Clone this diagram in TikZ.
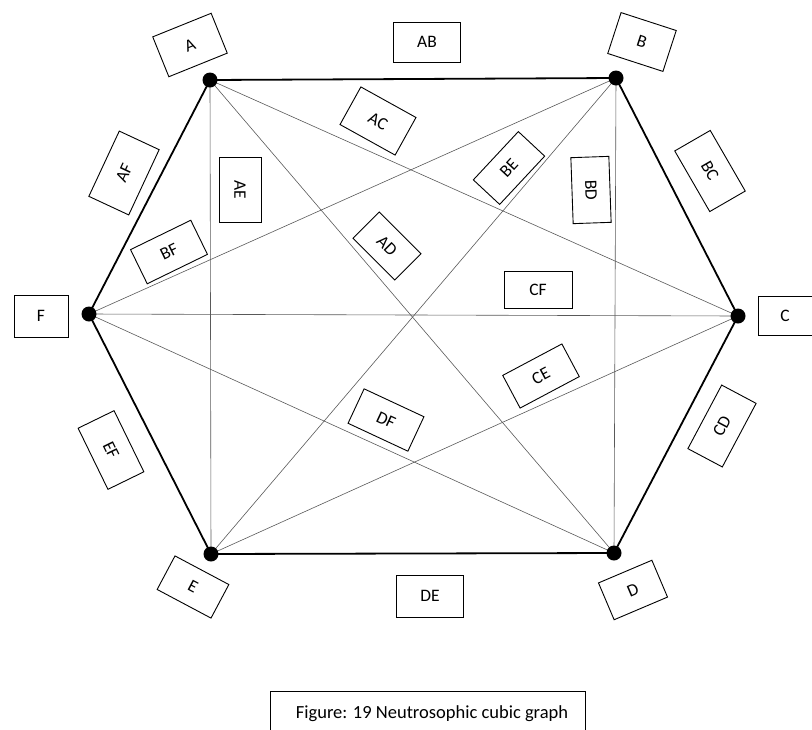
\documentclass[tikz,border=0pt]{standalone}
\usepackage{fontspec}
\setmainfont{Carlito}
\begin{document}
\begin{tikzpicture}[x=1pt,y=-1pt,
  vtx/.style={circle,fill=black,inner sep=0pt,minimum size=15pt},
  lbl/.style={draw=black,line width=0.9pt,fill=white,inner sep=0pt,font=\fontsize{17.5}{20}\selectfont},
  outer/.style={line width=1.8pt,black},
  inner/.style={line width=0.6pt,black!65}]
\useasboundingbox (0,0) rectangle (812,729);
\clip (0,0) rectangle (812,729);
% vertices
\coordinate (A) at (210,80);
\coordinate (B) at (616,78);
\coordinate (C) at (738,316);
\coordinate (D) at (614,553);
\coordinate (E) at (211,554);
\coordinate (F) at (89,314);
% inner edges
\draw[inner] (A) -- (C);
\draw[inner] (A) -- (D);
\draw[inner] (A) -- (E);
\draw[inner] (B) -- (D);
\draw[inner] (B) -- (E);
\draw[inner] (B) -- (F);
\draw[inner] (C) -- (E);
\draw[inner] (C) -- (F);
\draw[inner] (D) -- (F);
% outer edges
\draw[outer] (A) -- (B) -- (C) -- (D) -- (E) -- (F) -- cycle;
\foreach \v in {A,B,C,D,E,F} \node[vtx] (n\v) at (\v) {};
% vertex labels
\node[lbl,minimum width=63pt,minimum height=43pt,rotate=22] (lA) at (190,45) {A};
\node[lbl,minimum width=58pt,minimum height=43pt,rotate=-18] (lB) at (642,42) {B};
\node[lbl,minimum width=54pt,minimum height=39pt] (lC) at (785,316) {C};
\node[lbl,minimum width=58pt,minimum height=40pt,rotate=23] (lD) at (633,590) {D};
\node[lbl,minimum width=61pt,minimum height=38pt,rotate=-28] (lE) at (193,587) {E};
\node[lbl,minimum width=54pt,minimum height=42pt] (lF) at (41,316) {F};
% edge labels
\node[lbl,minimum width=67pt,minimum height=40pt] (lAB) at (427,42) {AB};
\node[lbl,minimum width=70pt,minimum height=41pt,rotate=-60] (lBC) at (710,171) {BC};
\node[lbl,minimum width=72pt,minimum height=39pt,rotate=62] (lCD) at (722,426) {CD};
\node[lbl,minimum width=67pt,minimum height=42pt] (lDE) at (430,596) {DE};
\node[lbl,minimum width=68pt,minimum height=40pt,rotate=-64] (lEF) at (111,450) {EF};
\node[lbl,minimum width=72pt,minimum height=44pt,rotate=65] (lAF) at (124,173) {AF};
\node[lbl,minimum width=63pt,minimum height=43pt,rotate=-29] (lAC) at (378,121) {AC};
\node[lbl,minimum width=65pt,minimum height=42pt,rotate=-90] (lAE) at (240,190) {AE};
\node[lbl,minimum width=66pt,minimum height=38pt,rotate=-88] (lBD) at (591,190) {BD};
\node[lbl,minimum width=66pt,minimum height=36pt,rotate=47] (lBE) at (509,168) {BE};
\node[lbl,minimum width=67pt,minimum height=38pt,rotate=26] (lBF) at (169,252) {BF};
\node[lbl,minimum width=59pt,minimum height=37pt,rotate=-45] (lAD) at (387,246) {AD};
\node[lbl,minimum width=68pt,minimum height=37pt] (lCF) at (538,290) {CF};
\node[lbl,minimum width=67pt,minimum height=37pt,rotate=28] (lCE) at (541,376) {CE};
\node[lbl,minimum width=66pt,minimum height=38pt,rotate=-25] (lDF) at (386,420) {DF};
% caption
\node[draw=black,line width=0.9pt,anchor=north west,minimum width=315pt,minimum height=60pt,inner sep=0pt] (cap) at (270,691) {};
\node[anchor=base,font=\fontsize{18.5}{22}\selectfont] (capt) at (432,718) {Figure: 19 Neutrosophic cubic graph};
\end{tikzpicture}
\end{document}
